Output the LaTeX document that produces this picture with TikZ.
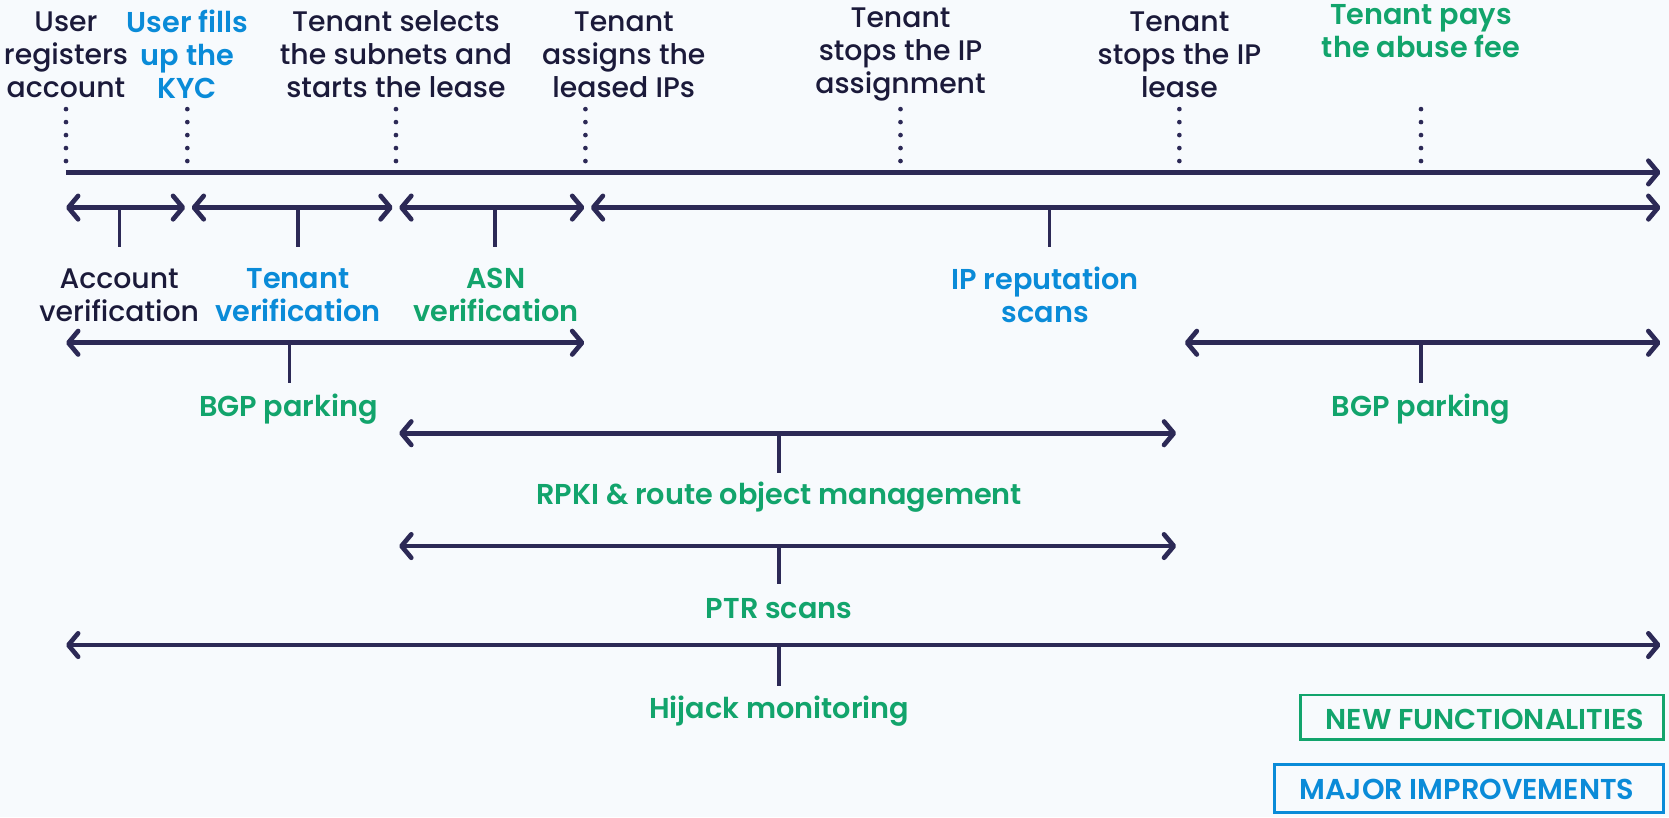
\documentclass[tikz,border=0pt]{standalone}
\usepackage{fontspec}
\setmainfont{Poppins}[UprightFont=* Medium, BoldFont=* SemiBold]
\usetikzlibrary{arrows.meta}
\definecolor{navy}{RGB}{44,41,86}
\definecolor{dark}{RGB}{27,26,58}
\definecolor{tgreen}{RGB}{18,164,108}
\definecolor{tblue}{RGB}{10,139,216}
\definecolor{bg}{RGB}{247,250,253}
\tikzset{
  tl/.style={draw=navy, line width=2.2pt},
  tip/.tip={Straight Barb[length=4.6pt,width=11pt,round]},
  dbl/.style={tl, tip-tip},
  sgl/.style={tl, -tip},
  tickline/.style={draw=navy, line width=1.6pt},
  dots/.style={draw=navy, line width=2.2pt, line cap=round, dash pattern=on 0pt off 6.1pt},
  lbl/.style={align=center, inner sep=0pt, font=\fontsize{13.3}{15.5}\selectfont, text=dark},
  glbl/.style={lbl, text=tgreen, font=\fontsize{13.5}{15.5}\selectfont\bfseries},
  blbl/.style={lbl, text=tblue, font=\fontsize{13.5}{15.5}\selectfont\bfseries},
  legend/.style={line width=1.3pt, inner sep=0pt, font=\fontsize{13.5}{15}\selectfont\bfseries}
}
\begin{document}
\begin{tikzpicture}[x=0.5pt,y=-0.5pt]
\fill[bg] (0,0) rectangle (1568,768);
\useasboundingbox (0,0) rectangle (1568,768);

% top labels
\node[lbl]  (reg)   at (62,51)   {User\\registers\\account};
\node[blbl] (kyc)   at (176,51)  {User fills\\up the\\KYC};
\node[lbl]  (sel)   at (372,51)  {Tenant selects\\the subnets and\\starts the lease};
\node[lbl]  (asg)   at (586,51)  {Tenant\\assigns the\\leased IPs};
\node[lbl]  (stopa) at (846,51)  {Tenant\\stops the IP\\assignment};
\node[lbl]  (stopl) at (1108,51) {Tenant\\stops the IP\\lease};
\node[glbl] (pays)  at (1335,29) {Tenant pays\\the abuse fee};

% main timeline
\coordinate (t0) at (62,162);
\coordinate (t1) at (1560,162);
\draw[sgl] (t0) -- (t1);
\foreach \n/\x in {a/62,b/176,c/372,d/550,e/846,f/1108,g/1335}{
  \coordinate (d\n1) at (\x,102.5);
  \coordinate (d\n2) at (\x,151.5);
  \draw[dots] (d\n1) -- (d\n2);
}

% row 2
\coordinate (r2a) at (62,195);  \coordinate (r2b) at (174,195);
\coordinate (r2c) at (180,195); \coordinate (r2d) at (369,195);
\coordinate (r2e) at (375,195); \coordinate (r2f) at (549,195);
\coordinate (r2g) at (555,195); \coordinate (r2h) at (1560,195);
\draw[dbl] (r2a) -- (r2b);
\draw[dbl] (r2c) -- (r2d);
\draw[dbl] (r2e) -- (r2f);
\draw[dbl] (r2g) -- (r2h);
\node[lbl]  (acc) at (112,277) {Account\\verification};
\node[blbl] (tv)  at (280,277) {Tenant\\verification};
\node[glbl] (asn) at (466,277) {ASN\\verification};
\node[blbl] (ipr) at (982,277) {IP reputation\\scans};
\foreach \n/\x in {acc/112,tv/280,asn/465,ipr/986}{
  \coordinate (k\n1) at (\x,195);
  \coordinate (k\n2) at (\x,232);
  \draw[tickline] (k\n1) -- (k\n2);
}

% row 3
\coordinate (r3a) at (62,322);   \coordinate (r3b) at (549,322);
\coordinate (r3c) at (1113,322); \coordinate (r3d) at (1560,322);
\draw[dbl] (r3a) -- (r3b);
\draw[dbl] (r3c) -- (r3d);
\node[glbl] (bgp1) at (271,384) {BGP parking};
\node[glbl] (bgp2) at (1335,384) {BGP parking};
\foreach \n/\x in {bgpa/272,bgpb/1335}{
  \coordinate (k\n1) at (\x,322);
  \coordinate (k\n2) at (\x,360);
  \draw[tickline] (k\n1) -- (k\n2);
}

% row 4
\coordinate (r4a) at (375,407); \coordinate (r4b) at (1105,407);
\draw[dbl] (r4a) -- (r4b);
\coordinate (k41) at (732,407); \coordinate (k42) at (732,444);
\draw[tickline] (k41) -- (k42);
\node[glbl] (rpki) at (732,467) {RPKI \& route object management};

% row 5
\coordinate (r5a) at (375,513); \coordinate (r5b) at (1105,513);
\draw[dbl] (r5a) -- (r5b);
\coordinate (k51) at (732,513); \coordinate (k52) at (732,549);
\draw[tickline] (k51) -- (k52);
\node[glbl] (ptr) at (732,572) {PTR scans};

% row 6
\coordinate (r6a) at (62,606); \coordinate (r6b) at (1560,606);
\draw[dbl] (r6a) -- (r6b);
\coordinate (k61) at (732,606); \coordinate (k62) at (732,644);
\draw[tickline] (k61) -- (k62);
\node[glbl] (hij) at (732,668) {Hijack monitoring};

% legend
\draw[tgreen, line width=1.3pt] (1222,653) rectangle (1563,695);
\node[legend, text=tgreen] (newf) at (1395,676) {NEW FUNCTIONALITIES};
\draw[tblue, line width=1.3pt] (1197,718) rectangle (1563,763);
\node[legend, text=tblue] (majr) at (1378,742) {MAJOR IMPROVEMENTS};
\end{tikzpicture}
\end{document}
